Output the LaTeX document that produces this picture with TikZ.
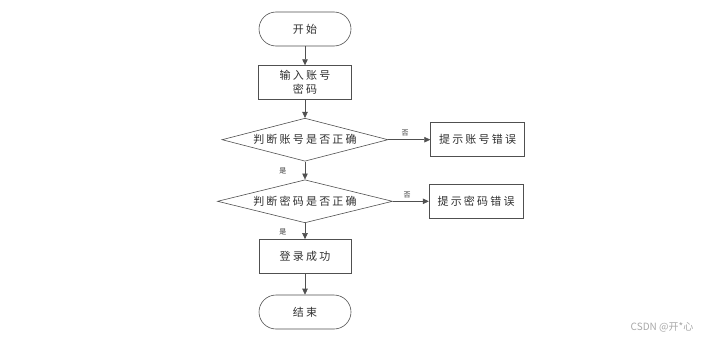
\documentclass[tikz,border=0pt]{standalone}
\usepackage{fontspec}
\newfontfamily\cjk[LetterSpace=20]{Noto Sans CJK SC}
\newfontfamily\cjkmark{Noto Sans CJK SC}
\usepackage{tikz}
\usetikzlibrary{positioning,arrows.meta,shapes.geometric}
\definecolor{cline}{HTML}{505050}
\definecolor{ctext}{HTML}{303030}
\definecolor{cmark}{HTML}{A8A8A8}

\begin{document}
\begin{tikzpicture}[
  x=1pt, y=-1pt,
  font=\cjk\fontsize{11}{14}\selectfont, text=ctext,
  term/.style={draw=cline, semithick, rounded corners=17pt, minimum width=92pt, minimum height=34pt, inner sep=1pt},
  proc/.style={draw=cline, semithick, minimum width=93pt, minimum height=34pt, inner sep=1pt, align=center},
  cond/.style={draw=cline, semithick, diamond, aspect=3.9, minimum height=43pt, inner sep=0pt},
  flow/.style={draw=cline, semithick, -{Triangle[length=6pt,width=5.5pt]}},
  yn/.style={font=\cjk\fontsize{7}{8}\selectfont},
]
\useasboundingbox (0,0) rectangle (711,340);
% ---------- main column ----------
\node[term] (start) at (305,29) {开始};
\node[proc, below=19pt of start] (input) {输入账号\\密码};
\node[cond, minimum width=166pt, below=18pt of input] (chkuser) {判断账号是否正确};
\node[cond, minimum width=175pt, below=18pt of chkuser] (chkpwd) {判断密码是否正确};
\node[proc, minimum width=92pt, below=16pt of chkpwd] (ok) {登录成功};
\node[term, below=21pt of ok] (end) {结束};
% ---------- error branches ----------
\node[proc, minimum width=94pt, right=42pt of chkuser] (erruser) {提示账号错误};
\node[proc, minimum width=94pt, right=36pt of chkpwd] (errpwd) {提示密码错误};
% ---------- connectors ----------
\draw[flow] (start) -- (input);
\draw[flow] (input) -- (chkuser);
\draw[flow] (chkuser) -- node[yn, left=15pt, pos=0.55]{是} (chkpwd);
\draw[flow] (chkpwd) -- node[yn, left=15pt, pos=0.55]{是} (ok);
\draw[flow] (ok) -- (end);
\draw[flow] (chkuser) -- node[yn, above, pos=0.4]{否} (erruser);
\draw[flow] (chkpwd) -- node[yn, above, pos=0.4]{否} (errpwd);
% watermark
\node[font=\cjkmark\fontsize{10}{12}\selectfont, text=cmark] (mark) at (662,327) {CSDN @开*心};
\end{tikzpicture}
\end{document}
